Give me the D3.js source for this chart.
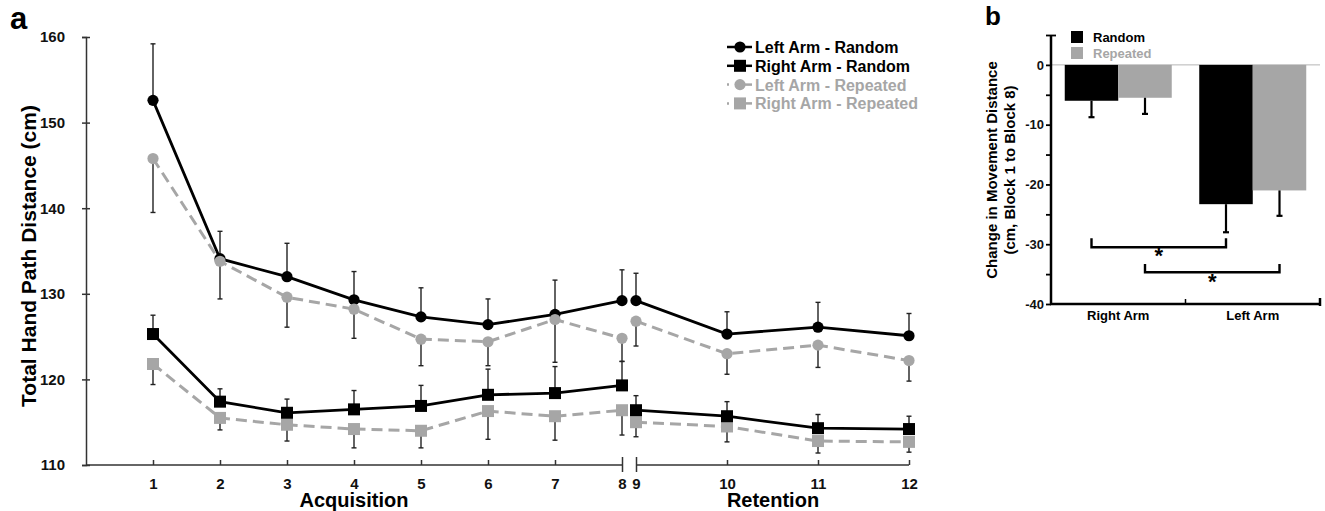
<!DOCTYPE html>
<html>
<head>
<meta charset="utf-8">
<script src="https://cdn.jsdelivr.net/npm/d3@7"></script>
<style>
  body { margin: 0; background: #fff; }
  svg { font-family: "Liberation Sans", Arial, sans-serif; font-weight: bold; }
</style>
</head>
<body>
<svg id="chart" width="1325" height="511"></svg>
<script>
// panel a data: total hand path distance per block
var blocks = [1, 2, 3, 4, 5, 6, 7, 8, 9, 10, 11, 12];
var leftRandom      = [152.6, 134.1, 132.0, 129.3, 127.3, 126.4, 127.6, 129.2, 129.2, 125.3, 126.1, 125.1];
var leftRandomSE    = [6.6, 3.2, 3.9, 3.3, 3.4, 3.0, 4.0, 3.6, 3.2, 2.6, 2.9, 2.6];
var rightRandom     = [125.3, 117.4, 116.1, 116.5, 116.9, 118.2, 118.4, 119.3, 116.4, 115.7, 114.3, 114.2];
var rightRandomSE   = [2.2, 1.5, 1.6, 2.2, 2.4, 3.0, 3.1, 2.8, 1.7, 1.7, 1.6, 1.5];
var leftRepeated    = [145.8, 133.8, 129.6, 128.2, 124.7, 124.4, 127.0, 124.8, 126.8, 123.0, 124.0, 122.2];
var leftRepeatedSE  = [6.3, 4.4, 3.5, 3.4, 3.1, 2.8, 5.0, 2.7, 2.9, 2.4, 2.6, 2.4];
var rightRepeated   = [121.8, 115.5, 114.7, 114.2, 114.0, 116.3, 115.7, 116.4, 115.0, 114.5, 112.8, 112.7];
var rightRepeatedSE = [2.4, 1.4, 1.9, 2.2, 2.0, 3.3, 2.8, 2.9, 1.7, 1.8, 1.4, 1.2];
var yTicksA = [110, 120, 130, 140, 150, 160];

// panel b data: change block 1 -> block 8
var arms = ["Right Arm", "Left Arm"];
var conditions = ["Random", "Repeated"];
var randomChange = [-6.0, -23.3];
var randomChangeSE = [2.75, 4.7];
var repeatedChange = [-5.5, -21.0];
var repeatedChangeSE = [2.7, 4.25];
var yTicksB = [5, 0, -5, -10, -15, -20, -25, -30, -35, -40];

var GRAY = "#a6a6a6";
var svg = d3.select("#chart");

// ---------- panel a ----------
var x = d3.scaleLinear().domain([0, 8, 9, 12]).range([86, 622, 636, 909]);
var y = d3.scaleLinear().domain([110, 160]).range([465, 37]);

svg.append("text").attr("x", 10).attr("y", 29).attr("font-size", 31).text("a");

// y axis
var yAx = svg.append("g").attr("transform", "translate(86,0)")
  .call(d3.axisLeft(y).tickValues(yTicksA).tickSize(4).tickPadding(17));
yAx.select(".domain").attr("stroke", "#333").attr("stroke-width", 1.5);
yAx.selectAll(".tick line").attr("x1", 4).attr("stroke", "#333").attr("stroke-width", 1.5);
yAx.selectAll(".tick text").attr("font-size", 15).attr("font-weight", "bold").attr("fill", "#111")
  .attr("font-family", "Liberation Sans, Arial, sans-serif");

// x axis (broken between 8 and 9)
var xAx = svg.append("g").attr("transform", "translate(0,465)")
  .call(d3.axisBottom(x).tickValues(blocks).tickSize(-5).tickPadding(13));
xAx.select(".domain").remove();
xAx.selectAll(".tick line").attr("stroke", "#333").attr("stroke-width", 1.5);
xAx.selectAll(".tick line").filter(function(d) { return d === 8 || d === 9; }).attr("y1", 7).attr("y2", -8);
xAx.selectAll(".tick text").attr("font-size", 15).attr("font-weight", "bold").attr("fill", "#111")
  .attr("font-family", "Liberation Sans, Arial, sans-serif");
[[0, 8], [9, 12]].forEach(function(seg) {
  svg.append("line")
    .attr("x1", x(seg[0])).attr("x2", x(seg[1]))
    .attr("y1", 465).attr("y2", 465)
    .attr("stroke", "#333").attr("stroke-width", 1.5);
});

svg.append("text").attr("text-anchor", "middle").attr("font-size", 20)
  .attr("x", 354).attr("y", 507).text("Acquisition");
svg.append("text").attr("text-anchor", "middle").attr("font-size", 20)
  .attr("x", 773).attr("y", 507).text("Retention");
svg.append("text").attr("text-anchor", "middle").attr("font-size", 21)
  .attr("transform", "translate(36,256) rotate(-90)")
  .text("Total Hand Path Distance (cm)");

var series = [
  { name: "Right Arm - Repeated", vals: rightRepeated, se: rightRepeatedSE, color: GRAY, dash: "11,6", shape: "square", dir: -1 },
  { name: "Right Arm - Random", vals: rightRandom, se: rightRandomSE, color: "#000", dash: null, shape: "square", dir: 1 },
  { name: "Left Arm - Random", vals: leftRandom, se: leftRandomSE, color: "#000", dash: null, shape: "circle", dir: 1 },
  { name: "Left Arm - Repeated", vals: leftRepeated, se: leftRepeatedSE, color: GRAY, dash: "11,6", shape: "circle", dir: -1 }
];

var line = d3.line().x(function(d) { return x(d.b); }).y(function(d) { return y(d.v); });

function drawMarker(g, shape, color, cx, cy) {
  if (shape === "circle") {
    g.append("circle").attr("cx", cx).attr("cy", cy).attr("r", 5.6).attr("fill", color);
  } else {
    g.append("path").attr("transform", "translate(" + cx + "," + cy + ")")
      .attr("d", d3.symbol(d3.symbolSquare, 144)()).attr("fill", color);
  }
}

// error bars first
series.forEach(function(s) {
  var g = svg.append("g");
  blocks.forEach(function(b, i) {
    var y0 = y(s.vals[i]), y1 = y(s.vals[i] + s.dir * s.se[i]);
    g.append("line").attr("x1", x(b)).attr("x2", x(b)).attr("y1", y0).attr("y2", y1)
      .attr("stroke", "#222").attr("stroke-width", 1.4);
    g.append("line").attr("x1", x(b) - 2.5).attr("x2", x(b) + 2.5).attr("y1", y1).attr("y2", y1)
      .attr("stroke", "#222").attr("stroke-width", 1.4);
  });
});

series.forEach(function(s) {
  var g = svg.append("g");
  var pts = blocks.map(function(b, i) { return { b: b, v: s.vals[i] }; });
  [pts.slice(0, 8), pts.slice(8)].forEach(function(part) {
    g.append("path").attr("d", line(part)).attr("fill", "none")
      .attr("stroke", s.color).attr("stroke-width", s.dash ? 3 : 2.8)
      .attr("stroke-dasharray", s.dash);
  });
  pts.forEach(function(p) { drawMarker(g, s.shape, s.color, x(p.b), y(p.v)); });
});

// legend a
var legendOrder = [series[2], series[1], series[3], series[0]];
legendOrder.forEach(function(s, i) {
  var ly = 47 + i * 18.8;
  var g = svg.append("g");
  if (s.dash) {
    g.append("line").attr("x1", 727).attr("x2", 729).attr("y1", ly).attr("y2", ly)
      .attr("stroke", s.color).attr("stroke-width", 2.5);
    g.append("line").attr("x1", 740).attr("x2", 752).attr("y1", ly).attr("y2", ly)
      .attr("stroke", s.color).attr("stroke-width", 2.5);
  } else {
    g.append("line").attr("x1", 727).attr("x2", 752).attr("y1", ly).attr("y2", ly)
      .attr("stroke", s.color).attr("stroke-width", 2.5);
  }
  drawMarker(g, s.shape, s.color, 740, ly);
  g.append("text").attr("x", 755).attr("y", ly + 6).attr("font-size", 16)
    .attr("fill", s.color).text(s.name);
});

// ---------- panel b ----------
var yb = d3.scaleLinear().domain([-40, 5]).range([304, 35]);
var xb = d3.scaleBand().domain(arms).range([1051, 1320]);
var xg = d3.scaleBand().domain(conditions).range([0, xb.bandwidth()]).paddingOuter(0.257);

svg.append("text").attr("x", 985).attr("y", 25).attr("font-size", 26).text("b");

svg.append("line").attr("x1", 1051).attr("x2", 1320).attr("y1", yb(0)).attr("y2", yb(0))
  .attr("stroke", "#b5b5b5").attr("stroke-width", 1);

var barData = [];
arms.forEach(function(a, i) {
  barData.push({ arm: a, cond: "Random", v: randomChange[i], se: randomChangeSE[i], color: "#000" });
  barData.push({ arm: a, cond: "Repeated", v: repeatedChange[i], se: repeatedChangeSE[i], color: GRAY });
});

svg.append("g").selectAll("rect").data(barData).enter().append("rect")
  .attr("x", function(d) { return xb(d.arm) + xg(d.cond); })
  .attr("width", xg.bandwidth())
  .attr("y", yb(0))
  .attr("height", function(d) { return yb(d.v) - yb(0); })
  .attr("fill", function(d) { return d.color; });

var eb = svg.append("g");
barData.forEach(function(d) {
  var cx = xb(d.arm) + xg(d.cond) + xg.bandwidth() / 2;
  var y1 = yb(d.v - d.se);
  eb.append("line").attr("x1", cx).attr("x2", cx).attr("y1", yb(d.v)).attr("y2", y1)
    .attr("stroke", "#000").attr("stroke-width", 2.2);
  eb.append("line").attr("x1", cx - 3).attr("x2", cx + 3).attr("y1", y1).attr("y2", y1)
    .attr("stroke", "#000").attr("stroke-width", 2.2);
});

// significance brackets
var brackets = [
  { c: "Random", top: -29.0, bar: -30.5, star: -31.2 },
  { c: "Repeated", top: -33.3, bar: -34.7, star: -35.4 }
];
brackets.forEach(function(br) {
  var xa = xb("Right Arm") + xg(br.c) + xg.bandwidth() / 2;
  var xz = xb("Left Arm") + xg(br.c) + xg.bandwidth() / 2;
  svg.append("path")
    .attr("d", "M" + xa + "," + yb(br.top) + "V" + yb(br.bar) + "H" + xz + "V" + yb(br.top))
    .attr("fill", "none").attr("stroke", "#000").attr("stroke-width", 2.4);
  svg.append("text").attr("text-anchor", "middle").attr("font-size", 22)
    .attr("x", (xa + xz) / 2).attr("y", yb(br.star) + 12).text("*");
});

// axes b
var ybAx = svg.append("g").attr("transform", "translate(1051,0)")
  .call(d3.axisLeft(yb).tickValues(yTicksB).tickSize(5).tickPadding(2)
    .tickFormat(function(d) { return d % 10 === 0 ? String(d) : ""; }));
ybAx.select(".domain").attr("stroke", "#000").attr("stroke-width", 2.5)
  .attr("d", "M0," + yb(5) + "V" + yb(-40));
ybAx.selectAll(".tick line").attr("stroke", "#000").attr("stroke-width", 1.8);
ybAx.selectAll(".tick line").filter(function(d) { return d === 5; }).attr("x1", 5);
ybAx.selectAll(".tick text").attr("font-size", 13).attr("font-weight", "bold").attr("fill", "#111")
  .attr("font-family", "Liberation Sans, Arial, sans-serif");

svg.append("line").attr("x1", 1050).attr("x2", 1321).attr("y1", 304).attr("y2", 304)
  .attr("stroke", "#000").attr("stroke-width", 2.5);
svg.append("line").attr("x1", 1185.5).attr("x2", 1185.5).attr("y1", 304).attr("y2", 299)
  .attr("stroke", "#000").attr("stroke-width", 1.5);
svg.append("line").attr("x1", 1320).attr("x2", 1320).attr("y1", 298).attr("y2", 306)
  .attr("stroke", "#000").attr("stroke-width", 2.5);

arms.forEach(function(a) {
  svg.append("text").attr("text-anchor", "middle").attr("font-size", 13)
    .attr("x", xb(a) + xb.bandwidth() / 2).attr("y", 320).text(a);
});

svg.append("text").attr("text-anchor", "middle").attr("font-size", 15)
  .attr("transform", "translate(997,170) rotate(-90)").text("Change in Movement Distance");
svg.append("text").attr("text-anchor", "middle").attr("font-size", 15)
  .attr("transform", "translate(1015,170) rotate(-90)").text("(cm, Block 1 to Block 8)");

// legend b
conditions.forEach(function(c, i) {
  var col = i === 0 ? "#000" : GRAY;
  svg.append("rect").attr("x", 1071).attr("y", 31 + i * 16).attr("width", 12).attr("height", 12).attr("fill", col);
  svg.append("text").attr("x", 1093).attr("y", 42 + i * 16).attr("font-size", 13).attr("fill", col).text(c);
});
</script>
</body>
</html>
